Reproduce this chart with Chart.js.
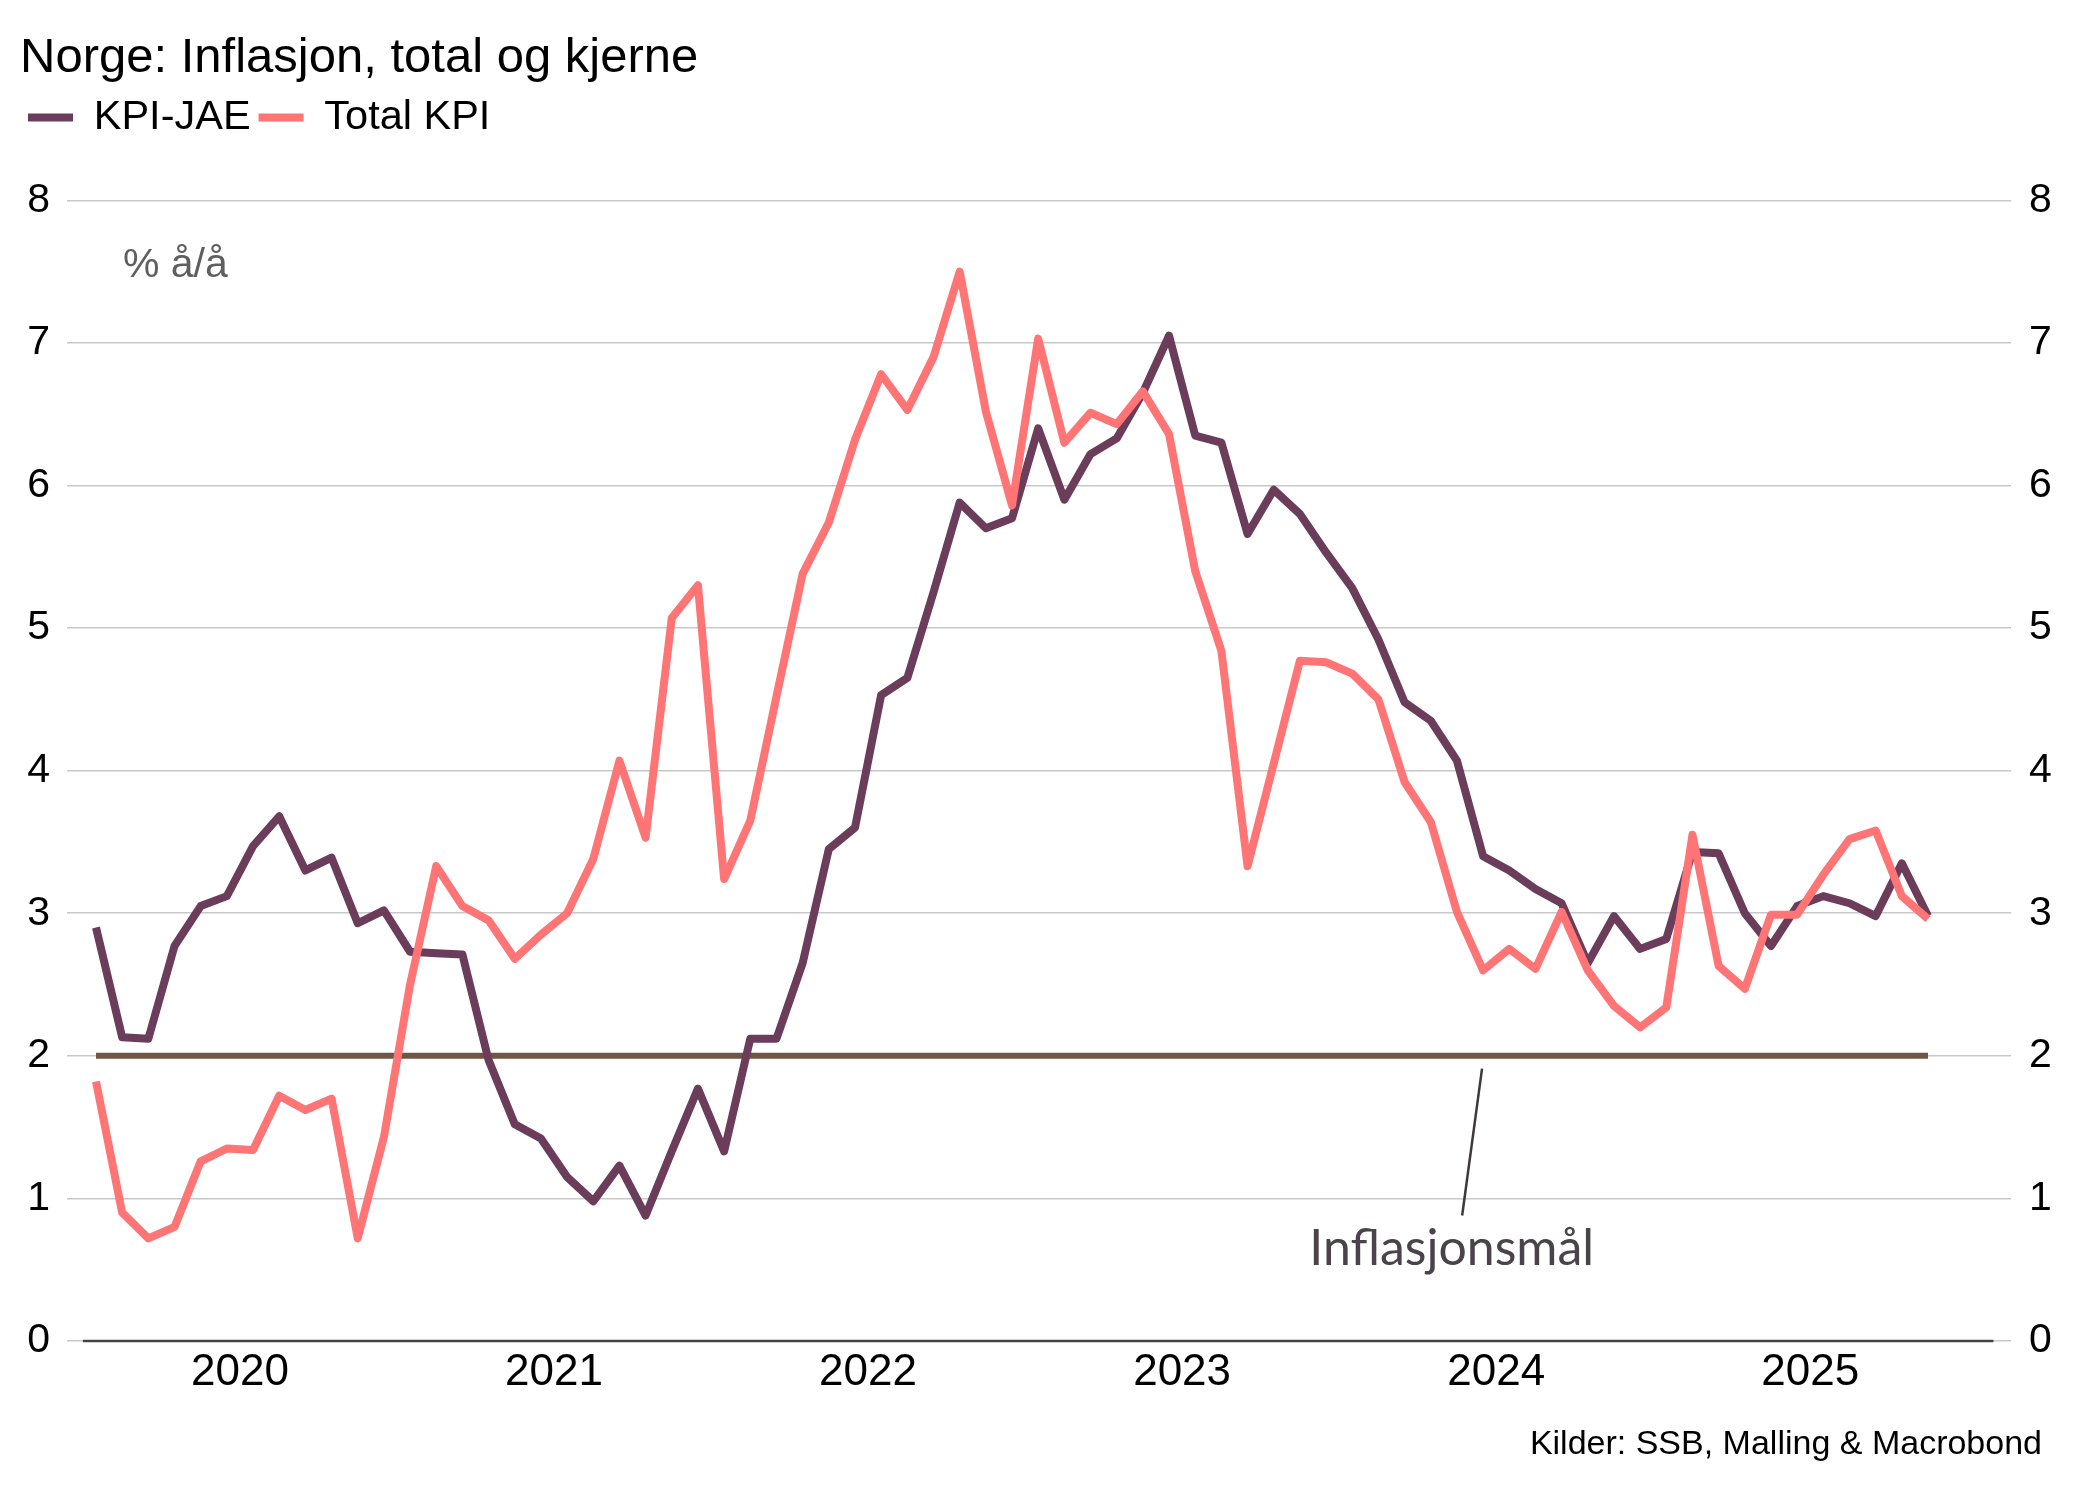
<!DOCTYPE html>
<html><head><meta charset="utf-8">
<script src="https://cdn.jsdelivr.net/npm/chart.js@4.4.1/dist/chart.umd.min.js"></script>
<style>html,body{margin:0;padding:0;background:#fff}#wrap{width:2078px;height:1500px;position:relative}</style>
</head><body><div id="wrap"><canvas id="c"></canvas></div>
<script>
// ---- data (monthly, Jan 2020 - Nov 2025) ----
const years = ['2020','2021','2022','2023','2024','2025'];
const kpiJae = [
  2.90, 2.13, 2.12, 2.77, 3.05, 3.12, 3.47, 3.68, 3.30, 3.39, 2.93, 3.02,
  2.73, 2.72, 2.71, 1.97, 1.52, 1.42, 1.15, 0.98, 1.23, 0.88, 1.33, 1.77,
  1.33, 2.12, 2.12, 2.65, 3.45, 3.60, 4.53, 4.65, 5.25, 5.88, 5.70, 5.77,
  6.40, 5.90, 6.22, 6.33, 6.65, 7.05, 6.35, 6.30, 5.66, 5.97, 5.80, 5.53,
  5.28, 4.92, 4.48, 4.35, 4.07, 3.40, 3.30, 3.17, 3.07, 2.65, 2.98, 2.75,
  2.82, 3.43, 3.42, 3.00, 2.77, 3.05, 3.12, 3.07, 2.98, 3.35, 2.98
];
const totalKpi = [
  1.82, 0.90, 0.72, 0.80, 1.26, 1.35, 1.34, 1.72, 1.62, 1.70, 0.72, 1.43,
  2.50, 3.33, 3.05, 2.95, 2.68, 2.85, 3.00, 3.38, 4.07, 3.53, 5.07, 5.30,
  3.24, 3.65, 4.52, 5.38, 5.74, 6.32, 6.78, 6.53, 6.90, 7.50, 6.52, 5.86,
  7.03, 6.30, 6.51, 6.43, 6.66, 6.36, 5.40, 4.84, 3.33, 4.05, 4.77, 4.76,
  4.68, 4.50, 3.92, 3.64, 3.01, 2.60, 2.75, 2.61, 3.01, 2.60, 2.35, 2.20,
  2.34, 3.55, 2.63, 2.47, 2.99, 2.99, 3.27, 3.52, 3.58, 3.12, 2.96
];
const inflationTarget = 2;
const yTickValues = [0, 1, 2, 3, 4, 5, 6, 7, 8];

// month categories
const months = [];
years.forEach(y => { for (let m = 1; m <= 12; m++) months.push(y + '-' + String(m).padStart(2, '0')); });
const categories = months.slice(0, kpiJae.length);

const toPoints = arr => arr.map((v, i) => ({x: i, y: v}));
const lastIdx = categories.length - 1;

Chart.defaults.font.family = "'Liberation Sans', Arial, sans-serif";
Chart.defaults.color = '#000';

const annot = {
  id: 'annot',
  beforeDatasetsDraw(chart) {
    const {ctx, scales: {x, y}} = chart;
    ctx.save();
    ctx.strokeStyle = '#444';
    ctx.lineWidth = 2.5;
    ctx.beginPath();
    ctx.moveTo(x.getPixelForValue(-0.5), y.getPixelForValue(0));
    ctx.lineTo(x.getPixelForValue(lastIdx + 2.5), y.getPixelForValue(0));
    ctx.stroke();
    ctx.restore();
  },
  afterDatasetsDraw(chart) {
    const {ctx, scales: {x, y}} = chart;
    ctx.save();
    ctx.fillStyle = '#5f5f5f';
    ctx.font = "41px 'Liberation Sans', Arial, sans-serif";
    ctx.textAlign = 'left';
    ctx.textBaseline = 'middle';
    ctx.fillText('% å/å', x.getPixelForValue(1.03), y.getPixelForValue(7.54));
    // pointer line
    ctx.strokeStyle = '#3d393d';
    ctx.lineWidth = 2.5;
    ctx.beginPath();
    ctx.moveTo(x.getPixelForValue(52.96), y.getPixelForValue(1.91));
    ctx.lineTo(x.getPixelForValue(52.2), y.getPixelForValue(0.88));
    ctx.stroke();
    ctx.fillStyle = '#4a434a';
    ctx.font = "50px Lato, 'Open Sans', sans-serif";
    ctx.textAlign = 'center';
    ctx.textBaseline = 'alphabetic';
    ctx.fillText('Inflasjonsmål', x.getPixelForValue(51.8), y.getPixelForValue(0.53));
    ctx.restore();
  },
  afterDraw(chart) {
    const {ctx} = chart;
    ctx.save();
    ctx.fillStyle = '#000';
    ctx.font = "34px 'Liberation Sans', Arial, sans-serif";
    ctx.textAlign = 'right';
    ctx.textBaseline = 'alphabetic';
    ctx.fillText('Kilder: SSB, Malling & Macrobond', chart.width - 36, chart.height - 46);
    ctx.restore();
  }
};

new Chart(document.getElementById('c'), {
  type: 'line',
  data: {
    labels: categories,
    datasets: [
      {label: 'KPI-JAE', data: toPoints(kpiJae), borderColor: '#6b3d5b', backgroundColor: '#6b3d5b',
       borderWidth: 8, pointRadius: 0, tension: 0, borderJoinStyle: 'round', order: 2},
      {label: 'Total KPI', data: toPoints(totalKpi), borderColor: '#ff7474', backgroundColor: '#ff7474',
       borderWidth: 8, pointRadius: 0, tension: 0, borderJoinStyle: 'round', order: 1},
      {label: 'Inflasjonsmål', data: [{x: 0, y: inflationTarget}, {x: lastIdx, y: inflationTarget}],
       borderColor: '#705444', backgroundColor: '#705444', borderWidth: 6, pointRadius: 0, order: 3}
    ]
  },
  options: {
    responsive: true,
    maintainAspectRatio: false,
    animation: false,
    devicePixelRatio: 1,
    layout: {padding: {left: 20, right: 0, top: 0, bottom: 0}},
    plugins: {
      title: {display: true, text: 'Norge: Inflasjon, total og kjerne', align: 'start',
        font: {size: 49, weight: 'normal'}, color: '#000', padding: {top: 29, bottom: 1}},
      legend: {display: true, align: 'start',
        labels: {boxWidth: 45, boxHeight: 8, padding: 8, color: '#000', font: {size: 41.5},
          generateLabels(chart) {
            return Chart.defaults.plugins.legend.labels.generateLabels(chart)
              .filter(it => it.text !== 'Inflasjonsmål')
              .sort((a, b) => a.datasetIndex - b.datasetIndex)
              .map(it => Object.assign(it, {lineWidth: 0, fillStyle: it.strokeStyle}));
          }}},
      tooltip: {enabled: false}
    },
    scales: {
      x: {type: 'linear', position: 'bottom', min: -1.108, max: lastIdx + 3.171,
        grid: {display: false, drawTicks: false}, border: {display: false},
        afterBuildTicks(s) { s.ticks = years.map((_, i) => ({value: i * 12 + 5.5})); },
        afterFit(s) { s.height = 159; },
        ticks: {autoSkip: false, maxRotation: 0, padding: 5, font: {size: 44}, color: '#000',
          callback: (v, i) => years[i]}},
      xTop: {type: 'linear', position: 'top', display: true,
        grid: {display: false, drawTicks: false}, border: {display: false},
        ticks: {display: false}, afterFit(s) { s.height = 52; }},
      y: {type: 'linear', position: 'left', min: 0, max: 8,
        afterBuildTicks(s) { s.ticks = yTickValues.map(v => ({value: v})); },
        grid: {color: '#c8c8c8', lineWidth: 1.5, drawTicks: false}, border: {display: false},
        afterFit(s) { s.width = 47; },
        ticks: {padding: 17, font: {size: 41}, color: '#000'}},
      y2: {type: 'linear', position: 'right', min: 0, max: 8,
        afterBuildTicks(s) { s.ticks = yTickValues.map(v => ({value: v})); },
        grid: {display: false, drawTicks: false}, border: {display: false},
        afterFit(s) { s.width = 67; },
        ticks: {padding: 18, font: {size: 41}, color: '#000'}}
    }
  },
  plugins: [annot]
});
</script></body></html>
